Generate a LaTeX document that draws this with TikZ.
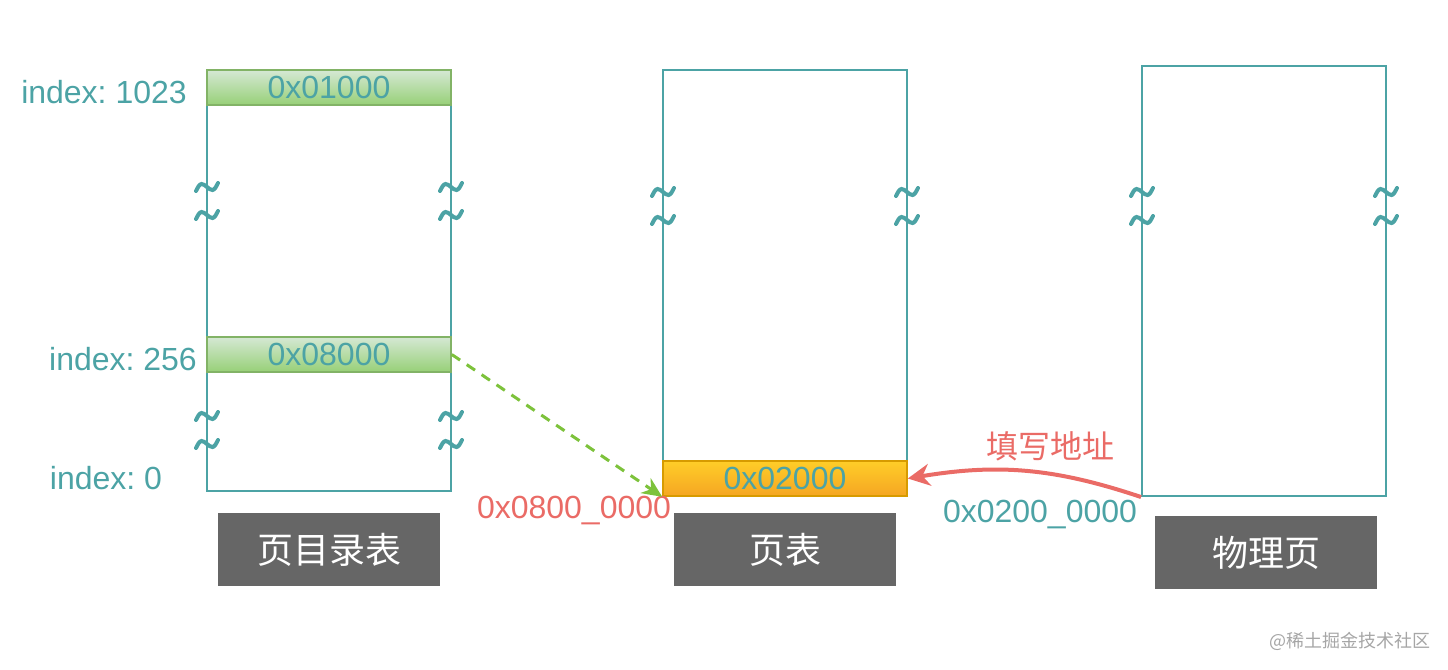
\documentclass[tikz,border=0pt]{standalone}
\usepackage{fontspec}
\setmainfont{Liberation Sans}
\newfontfamily\cjk{Noto Sans CJK SC}
\usepackage{xcolor}
\usetikzlibrary{arrows.meta, positioning}
\frenchspacing
\definecolor{memteal}{RGB}{76, 163, 165}
\definecolor{greenlight}{HTML}{D5E8D4}
\definecolor{greendark}{HTML}{97D077}
\definecolor{greenline}{HTML}{82B366}
\definecolor{orangelight}{HTML}{FFCD28}
\definecolor{orangedark}{HTML}{F5A623}
\definecolor{orangeline}{HTML}{D79B00}
\definecolor{addrred}{HTML}{EA6B66}
\definecolor{linkgreen}{HTML}{7DC23B}
\definecolor{namegray}{RGB}{102, 102, 102}
\tikzstyle{memblock} = [rectangle, draw=memteal, line width=1pt, minimum width=122pt, inner sep=0pt]
\tikzstyle{greenrow} = [rectangle, draw=greenline, top color=greenlight, bottom color=greendark, line width=0.8pt, minimum width=122pt, minimum height=17.5pt, inner sep=0pt, text=memteal, font=\fontsize{16}{18}\selectfont]
\tikzstyle{orangerow} = [rectangle, draw=orangeline, top color=orangelight, bottom color=orangedark, line width=0.8pt, minimum width=122pt, minimum height=17.5pt, inner sep=0pt, text=memteal, font=\fontsize{16}{18}\selectfont]
\tikzstyle{namebox} = [rectangle, fill=namegray, minimum width=111pt, minimum height=36.5pt, text=white, font=\cjk\fontsize{18}{20}\selectfont]
\tikzstyle{idx} = [text=memteal, inner sep=0pt, font=\fontsize{16}{18}\selectfont]
\tikzstyle{addr} = [inner sep=0pt, font=\fontsize{16}{18}\selectfont]
\tikzstyle{linkarrow} = [-{Stealth[length=10pt, width=9pt]}, draw=linkgreen, line width=1.5pt, dash pattern=on 5pt off 4pt]
\tikzstyle{fillarrow} = [-{Stealth[length=11pt, width=11pt]}, draw=addrred, line width=2pt]
\tikzset{brk/.pic={
    \draw[memteal, line width=2pt, line cap=round] (-11,4) sin (-5.5,-3) cos (0,0) sin (5.5,3) cos (11,-4);
    \draw[memteal, line width=2pt, line cap=round] (-11,32) sin (-5.5,25) cos (0,28) sin (5.5,31) cos (11,24);
}}

\begin{document}
\begin{tikzpicture}[x=0.5pt, y=-0.5pt]
    \useasboundingbox (0,0) rectangle (1448,670);

    % Page directory
    \node[memblock, minimum height=210.5pt] (pgdir) at (329, 280.5) {};
    \node[greenrow] (slot1023) at (329, 87.5) {0x01000};
    \node[greenrow] (slot256) at (329, 354.5) {0x08000};
    \node[idx] (idx1023) at (104, 92) {index: 1023};
    \node[idx] (idx256) at (123, 359) {index: 256};
    \node[idx] (idx0) at (106, 478) {index: 0};
    \node[namebox] (pgdirname) at (329, 549.5) {页目录表};

    % Page table
    \node[memblock, minimum height=213pt] (ptable) at (785, 283) {};
    \node[orangerow] (pte) at (785, 478.5) {0x02000};
    \node[namebox] (ptablename) at (785, 549.5) {页表};
    \node[addr, text=addrred] (ptaddr) at (574, 511) {0x0800\_0000};

    % Physical page
    \node[memblock, minimum height=215pt] (phys) at (1264, 281) {};
    \node[namebox] (physname) at (1266, 552.5) {物理页};
    \node[addr, text=memteal] (physaddr) at (1040, 515) {0x0200\_0000};
    \node[addr, text=addrred, font=\cjk\fontsize{16}{18}\selectfont] (fillnote) at (1050, 446) {填写地址};

    % Breaks
    \pic at (207, 187) {brk};
    \pic at (451, 187) {brk};
    \pic at (207, 416) {brk};
    \pic at (451, 416) {brk};
    \pic at (663, 192) {brk};
    \pic at (907, 192) {brk};
    \pic at (1142, 192) {brk};
    \pic at (1386, 192) {brk};

    % Arrows
    \draw[linkarrow] (slot256.east) -- (pte.south west);
    \draw[fillarrow] (phys.south west) to[bend right=14] (pte.east);

    % Watermark
    \node[text=gray!70, inner sep=0pt, font=\cjk\fontsize{9}{10}\selectfont] (mark) at (1350, 641) {@稀土掘金技术社区};
\end{tikzpicture}
\end{document}
